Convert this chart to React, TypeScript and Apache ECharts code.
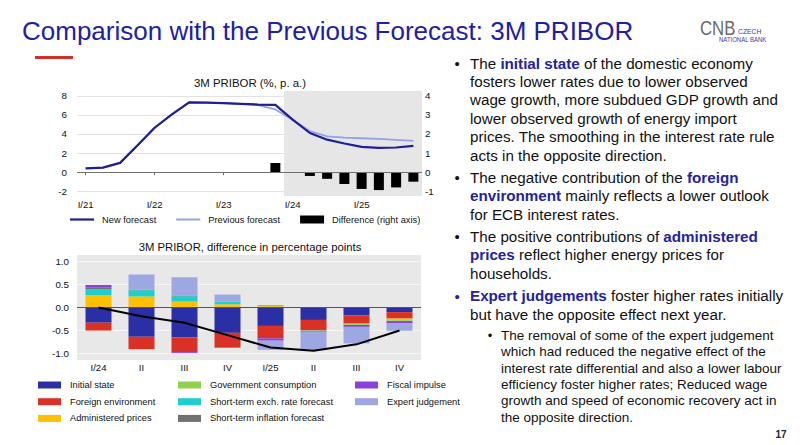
import React, { useEffect, useRef } from "react";
import * as echarts from "echarts";

// ---------- Top chart data ----------
const quarters = [
  "I/21", "II/21", "III/21", "IV/21",
  "I/22", "II/22", "III/22", "IV/22",
  "I/23", "II/23", "III/23", "IV/23",
  "I/24", "II/24", "III/24", "IV/24",
  "I/25", "II/25", "III/25", "IV/25",
];
const yearTickIdx = [0, 4, 8, 12, 16];
const newForecast = [0.4, 0.47, 0.97, 2.8, 4.65, 6.05, 7.3, 7.28, 7.22, 7.15, 7.08, 7.05, 5.5, 4.1, 3.4, 3.0, 2.65, 2.55, 2.58, 2.75];
const prevForecast = [0.4, 0.47, 0.97, 2.8, 4.65, 6.05, 7.3, 7.28, 7.22, 7.15, 7.02, 6.57, 5.5, 4.3, 3.75, 3.62, 3.55, 3.48, 3.38, 3.27];
const differenceRight: (number | null)[] = [null, null, null, null, null, null, null, null, null, null, null, 0.48, 0, -0.2, -0.35, -0.62, -0.88, -0.94, -0.8, -0.5];
const leftTicks = [-2, 0, 2, 4, 6, 8];
const rightTicks = [-1, 0, 1, 2, 3, 4];

// ---------- Bottom chart data ----------
const decompCats = ["I/24", "II/24", "III/24", "IV/24", "I/25", "II/25", "III/25", "IV/25"];
const decompTickLabels = ["I/24", "II", "III", "IV", "I/25", "II", "III", "IV"];
const initialState = [-0.33, -0.635, -0.65, -0.55, -0.4, -0.27, -0.17, -0.1];
const foreignEnvironment = [-0.17, -0.27, -0.32, -0.31, -0.27, -0.22, -0.18, -0.14];
const administeredPrices = [0.27, 0.23, 0.12, 0.07, 0.03, 0, -0.01, -0.035];
const governmentConsumption = [0, 0.015, 0.015, 0, 0, -0.015, -0.02, -0.02];
const exchRateForecast = [0.13, 0.13, 0.11, 0.06, 0.02, 0, 0, 0];
const inflationForecast = [0.04, 0.012, 0.012, 0, 0, 0, 0, 0];
const fiscalImpulse = [0.05, 0, -0.02, -0.015, -0.05, -0.02, -0.04, -0.05];
const expertJudgement = [0, 0.33, 0.4, 0.15, -0.2, -0.4, -0.36, -0.16];
const totalDifference = [0, -0.19, -0.33, -0.6, -0.87, -0.94, -0.8, -0.5];
const decompTicks = [-1, -0.5, 0, 0.5, 1];

const FONT = "'Liberation Sans', Arial, Helvetica, sans-serif";
const BLUE_TXT = "#2323A0";
const NEW_COLOR = "#1E1E96";
const PREV_COLOR = "#93A2E5";

const components = [
  { name: "Initial state", data: initialState, color: "#2B2FA6" },
  { name: "Foreign environment", data: foreignEnvironment, color: "#D93126" },
  { name: "Administered prices", data: administeredPrices, color: "#FFC000" },
  { name: "Government consumption", data: governmentConsumption, color: "#92D050" },
  { name: "Short-term exch. rate forecast", data: exchRateForecast, color: "#1FCFD0" },
  { name: "Short-term inflation forecast", data: inflationForecast, color: "#707070" },
  { name: "Fiscal impulse", data: fiscalImpulse, color: "#8B3FDF" },
  { name: "Expert judgement", data: expertJudgement, color: "#9DA8E3" },
];

function para(x: number, y: number, lines: string[], size: number, lh: number) {
  return {
    type: "text",
    x,
    y,
    style: {
      text: lines.join("\n"),
      fontSize: size,
      fontFamily: FONT,
      fill: "#111",
      lineHeight: lh,
      verticalAlign: "top",
      rich: {
        b: { fontSize: size, fontFamily: FONT, fontWeight: "bold", fill: BLUE_TXT, lineHeight: lh },
      },
    },
  };
}

function bullet(x: number, y: number, size: number, color: string) {
  return {
    type: "text",
    x,
    y,
    style: { text: "•", fontSize: size, fontFamily: FONT, fill: color, align: "center", verticalAlign: "middle" },
  };
}

function buildOption() {
  const legendText = { fontSize: 9.3, color: "#111", fontFamily: FONT, padding: [0, 0, 0, 4] };
  const bottomLegend = (names: string[], left: number) => ({
    data: names.map((n) => ({ name: n, icon: "rect" })),
    orient: "vertical",
    left,
    top: 379,
    padding: 0,
    itemWidth: 23,
    itemHeight: 7,
    itemGap: 4.7,
    textStyle: { ...legendText, lineHeight: 12 },
    selectedMode: false,
  });

  return {
    animation: false,
    textStyle: { fontFamily: FONT },
    title: [
      {
        text: "3M PRIBOR (%, p. a.)",
        left: 250,
        top: 77,
        padding: 0,
        textAlign: "center",
        textStyle: { fontSize: 11.4, fontWeight: "normal", color: "#111", fontFamily: FONT },
      },
      {
        text: "3M PRIBOR, difference in percentage points",
        left: 250,
        top: 241,
        padding: 0,
        textAlign: "center",
        textStyle: { fontSize: 11.3, fontWeight: "normal", color: "#111", fontFamily: FONT },
      },
    ],
    legend: [
      {
        data: [
          { name: "New forecast", icon: "path://M0,0H24V2.2H0Z" },
          { name: "Previous forecast", icon: "path://M0,0H24V2H0Z" },
          { name: "Difference (right axis)", icon: "rect" },
        ],
        left: 70,
        top: 215,
        padding: 0,
        itemWidth: 24,
        itemHeight: 8,
        itemGap: 20,
        symbolKeepAspect: true,
        textStyle: { ...legendText, padding: [0, 0, 0, 3] },
        selectedMode: false,
      },
      bottomLegend(["Initial state", "Foreign environment", "Administered prices"], 38),
      bottomLegend(["Government consumption", "Short-term exch. rate forecast", "Short-term inflation forecast"], 178),
      bottomLegend(["Fiscal impulse", "Expert judgement"], 355),
    ],
    grid: [
      { left: 77, top: 91, width: 345, height: 105 },
      { left: 77, top: 255, width: 344, height: 105, show: true, backgroundColor: "#E8E8E8", borderWidth: 0 },
    ],
    xAxis: [
      {
        type: "value",
        gridIndex: 0,
        min: -0.5,
        max: 19.5,
        axisLine: { show: false },
        axisTick: { show: true, customValues: yearTickIdx, length: 3, lineStyle: { color: "#666" } },
        axisLabel: {
          customValues: yearTickIdx,
          formatter: (v: number) => quarters[Math.round(v)] ?? "",
          fontSize: 9.6,
          color: "#111",
          margin: 3,
        },
        splitLine: { show: false },
      },
      {
        type: "category",
        gridIndex: 1,
        data: decompCats,
        axisLine: { show: false },
        axisTick: { show: true, alignWithLabel: true, length: 3, lineStyle: { color: "#666" } },
        axisLabel: {
          formatter: (_v: string, i: number) => decompTickLabels[i],
          fontSize: 9.6,
          color: "#111",
          margin: 2,
        },
      },
    ],
    yAxis: [
      {
        type: "value",
        gridIndex: 0,
        min: -2.5,
        max: 8.5,
        axisLine: { show: false },
        axisTick: { show: false, customValues: leftTicks },
        axisLabel: { customValues: leftTicks, fontSize: 9.8, color: "#111", margin: 10 },
        splitLine: { show: true, lineStyle: { color: "#E2E2E2", width: 1 } },
      },
      {
        type: "value",
        gridIndex: 0,
        position: "right",
        min: -1.25,
        max: 4.25,
        axisLine: { show: false },
        axisTick: { show: false, customValues: rightTicks },
        axisLabel: { customValues: rightTicks, fontSize: 9.8, color: "#111", margin: 3 },
        splitLine: { show: false },
      },
      {
        type: "value",
        gridIndex: 1,
        min: -1.14,
        max: 1.14,
        axisLine: { show: false },
        axisTick: { show: false, customValues: decompTicks },
        axisLabel: {
          customValues: decompTicks,
          formatter: (v: number) => v.toFixed(1),
          fontSize: 9.8,
          color: "#111",
          margin: 8,
        },
        splitLine: { show: true, lineStyle: { color: "#F6F6F6", width: 1 } },
      },
    ],
    series: [
      {
        name: "Difference (right axis)",
        type: "bar",
        xAxisIndex: 0,
        yAxisIndex: 1,
        barWidth: 10,
        itemStyle: { color: "#000" },
        data: differenceRight.map((v, i) => [i, v]).filter((d) => d[1] !== null),
        markLine: {
          silent: true,
          symbol: "none",
          label: { show: false },
          lineStyle: { color: "#707070", width: 1, type: "solid" },
          data: [{ yAxis: 0 }],
        },
      },
      {
        name: "Previous forecast",
        type: "line",
        xAxisIndex: 0,
        yAxisIndex: 0,
        symbol: "none",
        lineStyle: { color: PREV_COLOR, width: 1.8 },
        itemStyle: { color: PREV_COLOR },
        data: prevForecast.map((v, i) => [i, v]),
      },
      {
        name: "New forecast",
        type: "line",
        xAxisIndex: 0,
        yAxisIndex: 0,
        symbol: "none",
        lineStyle: { color: NEW_COLOR, width: 2.2 },
        itemStyle: { color: NEW_COLOR },
        data: newForecast.map((v, i) => [i, v]),
        markArea: {
          silent: true,
          itemStyle: { color: "#E6E6E6" },
          data: [[{ xAxis: 11.5, yAxis: -2.5 }, { xAxis: 19.5, yAxis: 8.5 }]],
        },
      },
      ...components.map((c) => ({
        name: c.name,
        type: "bar",
        stack: "decomp",
        xAxisIndex: 1,
        yAxisIndex: 2,
        barWidth: 26,
        itemStyle: { color: c.color },
        data: c.data,
      })),
      {
        name: "Total difference",
        type: "line",
        xAxisIndex: 1,
        yAxisIndex: 2,
        symbol: "none",
        lineStyle: { color: "#000", width: 2 },
        itemStyle: { color: "#000" },
        data: totalDifference,
        z: 5,
        markLine: {
          silent: true,
          symbol: "none",
          label: { show: false },
          lineStyle: { color: "#555", width: 1, type: "solid" },
          data: [{ yAxis: 0 }],
        },
      },
    ],
    graphic: [
      {
        type: "text",
        x: 22,
        y: 31,
        style: {
          text: "Comparison with the Previous Forecast: 3M PRIBOR",
          fontSize: 26,
          fontFamily: FONT,
          fill: "#2020A6",
          verticalAlign: "middle",
        },
      },
      { type: "rect", shape: { x: 35, y: 56, width: 38, height: 3 }, style: { fill: "#D32F2A" } },
      {
        type: "text",
        x: 700,
        y: 28,
        scaleX: 0.8,
        style: { text: "CNB", fontSize: 21, fontFamily: FONT, fill: "#6A6A6A", verticalAlign: "middle" },
      },
      {
        type: "text",
        x: 738,
        y: 31,
        scaleX: 0.85,
        style: { text: "CZECH", fontSize: 8, fontFamily: FONT, fill: "#3B3B9C", verticalAlign: "middle" },
      },
      {
        type: "text",
        x: 719,
        y: 39,
        scaleX: 0.8,
        style: { text: "NATIONAL BANK", fontSize: 7.5, fontFamily: FONT, fill: "#3B3B9C", verticalAlign: "middle" },
      },
      bullet(457, 63.3, 15, "#111"),
      para(470, 54.1, [
        "The {b|initial state} of the domestic economy",
        "fosters lower rates due to lower observed",
        "wage growth, more subdued GDP growth and",
        "lower observed growth of energy import",
        "prices. The smoothing in the interest rate rule",
        "acts in the opposite direction.",
      ], 15.2, 18.35),
      bullet(457, 177.7, 15, "#111"),
      para(470, 168.5, [
        "The negative contribution of the {b|foreign}",
        "{b|environment} mainly reflects a lower outlook",
        "for ECB interest rates.",
      ], 15.2, 18.2),
      bullet(457, 236.7, 15, "#111"),
      para(470, 227.5, [
        "The positive contributions of {b|administered}",
        "{b|prices} reflect higher energy prices for",
        "households.",
      ], 15.2, 18.3),
      bullet(457, 296, 15, BLUE_TXT),
      para(470, 286.9, [
        "{b|Expert judgements} foster higher rates initially",
        "but have the opposite effect next year.",
      ], 15.2, 18.2),
      bullet(490, 335.7, 13, "#111"),
      para(501, 327.6, [
        "The removal of some of the expert judgement",
        "which had reduced the negative effect of the",
        "interest rate differential and also a lower labour",
        "efficiency foster higher rates; Reduced wage",
        "growth and speed of economic recovery act in",
        "the opposite direction.",
      ], 13.5, 16.26),
      {
        type: "text",
        x: 781,
        y: 434,
        style: { text: "17", fontSize: 10, fontWeight: "bold", fontFamily: FONT, fill: "#222", align: "center", verticalAlign: "middle" },
      },
    ],
  };
}

export default function App() {
  const ref = useRef<HTMLDivElement>(null);
  useEffect(() => {
    if (!ref.current) return;
    const chart = echarts.init(ref.current, null, { renderer: "svg" });
    chart.setOption(buildOption() as any);
    return () => {
      chart.dispose();
    };
  }, []);
  return (
    <div
      ref={ref}
      style={{ position: "fixed", left: 0, top: 0, width: 800, height: 445, background: "#fff" }}
    />
  );
}
